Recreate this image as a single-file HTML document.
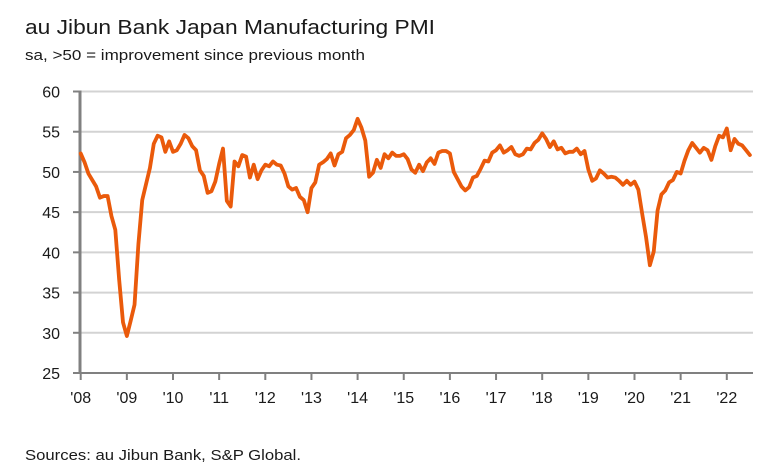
<!DOCTYPE html>
<html><head><meta charset="utf-8"><style>
body{margin:0;background:#fff;}
svg{display:block;font-family:"Liberation Sans",sans-serif;}
</style></head><body>
<svg id="chart" width="771" height="476">
<text x="25" y="34" font-size="20" fill="#1a1a1a" textLength="410" lengthAdjust="spacingAndGlyphs">au Jibun Bank Japan Manufacturing PMI</text>
<text x="25" y="60" font-size="15" fill="#1a1a1a" textLength="340" lengthAdjust="spacingAndGlyphs">sa, &gt;50 = improvement since previous month</text>
<text x="25" y="460" font-size="15" fill="#1a1a1a" textLength="276" lengthAdjust="spacingAndGlyphs">Sources: au Jibun Bank, S&amp;P Global.</text>
<g id="grid"></g><g id="axes"></g><g id="series"></g>
</svg>
<script>
const yTicks=[25,30,35,40,45,50,55,60];
const xLabels=["'08","'09","'10","'11","'12","'13","'14","'15","'16","'17","'18","'19","'20","'21","'22"];
const pmi2008=[52.3,51.2,49.8,49.0,48.2,46.8,47.0,47.0,44.5,42.8,36.6,31.3];
const pmi2009=[29.6,31.5,33.5,41.0,46.5,48.5,50.5,53.5,54.5,54.3,52.5,53.8];
const pmi2010=[52.5,52.7,53.5,54.6,54.2,53.2,52.7,50.2,49.5,47.4,47.6,48.8];
const pmi2011=[51.0,52.9,46.4,45.7,51.3,50.7,52.1,51.9,49.3,50.9,49.1,50.2];
const pmi2012=[50.9,50.7,51.3,50.9,50.8,49.8,48.2,47.8,48.0,46.9,46.5,45.0];
const pmi2013=[48.0,48.7,50.9,51.2,51.6,52.3,50.8,52.2,52.5,54.2,54.6,55.2];
const pmi2014=[56.6,55.5,53.9,49.4,49.9,51.5,50.5,52.2,51.7,52.4,52.0,52.0];
const pmi2015=[52.2,51.6,50.3,49.9,50.9,50.1,51.2,51.7,51.0,52.4,52.6,52.6];
const pmi2016=[52.3,50.0,49.1,48.2,47.7,48.1,49.3,49.5,50.4,51.4,51.3,52.4];
const pmi2017=[52.7,53.3,52.4,52.7,53.1,52.2,52.0,52.2,52.9,52.8,53.6,54.0];
const pmi2018=[54.8,54.1,53.1,53.8,52.8,53.0,52.3,52.5,52.5,52.9,52.2,52.6];
const pmi2019=[50.3,48.9,49.2,50.2,49.8,49.3,49.4,49.3,48.9,48.4,48.9,48.4];
const pmi2020=[48.8,47.8,44.8,41.9,38.4,40.1,45.2,47.2,47.7,48.7,49.0,50.0];
const pmi2021=[49.8,51.4,52.7,53.6,53.0,52.4,53.0,52.7,51.5,53.2,54.5,54.3];
const pmi2022=[55.4,52.7,54.1,53.5,53.3,52.7,52.1];
const values=[].concat(pmi2008,pmi2009,pmi2010,pmi2011,pmi2012,pmi2013,pmi2014,pmi2015,pmi2016,pmi2017,pmi2018,pmi2019,pmi2020,pmi2021,pmi2022);

const NS="http://www.w3.org/2000/svg";
const X0=80.7,YEARPX=46.15,PLOTR=753,YB=373,YT=91.5,VMIN=25,VMAX=60;
function xScale(m){return X0+m*YEARPX/12;}
function yScale(v){return YB-(v-VMIN)/(VMAX-VMIN)*(YB-YT);}
function mk(tag,attrs,parent){const e=document.createElementNS(NS,tag);for(const k in attrs)e.setAttribute(k,attrs[k]);parent.appendChild(e);return e;}
const grid=document.getElementById('grid'),axes=document.getElementById('axes'),series=document.getElementById('series');
yTicks.forEach(v=>{
  const y=yScale(v);
  if(v>VMIN){const g=mk('line',{x1:80,x2:PLOTR,y1:y,y2:y,stroke:'#d3d3d3','stroke-width':2},grid);
  
  }
  const t=mk('line',{x1:73,x2:80,y1:y,y2:y,stroke:'#808080','stroke-width':2},axes);
  
  
  const l=mk('text',{x:60,y:y+6,'font-size':16,'text-anchor':'end',fill:'#1a1a1a'},axes);
  l.textContent=v;
  
  
});
const ya=mk('line',{x1:80,x2:80,y1:YT-1,y2:YB+1,stroke:'#808080','stroke-width':3},axes);


const xa=mk('line',{x1:79,x2:PLOTR,y1:YB,y2:YB,stroke:'#808080','stroke-width':2},axes);


xLabels.forEach((lab,i)=>{
  const x=xScale(i*12);
  const t=mk('line',{x1:x,x2:x,y1:YB,y2:YB+7,stroke:'#808080','stroke-width':2},axes);
  
  
  const l=mk('text',{x:x,y:403,'font-size':16,'text-anchor':'middle',fill:'#1a1a1a'},axes);
  l.textContent=lab;
  
  
});
const d=values.map((v,i)=>(i?'L':'M')+xScale(i).toFixed(2)+','+yScale(v).toFixed(2)).join(' ');
const p=mk('path',{d:d,fill:'none',stroke:'#ea5a0b','stroke-width':3.8,'stroke-linejoin':'round','stroke-linecap':'round'},series);


</script>
</body></html>
